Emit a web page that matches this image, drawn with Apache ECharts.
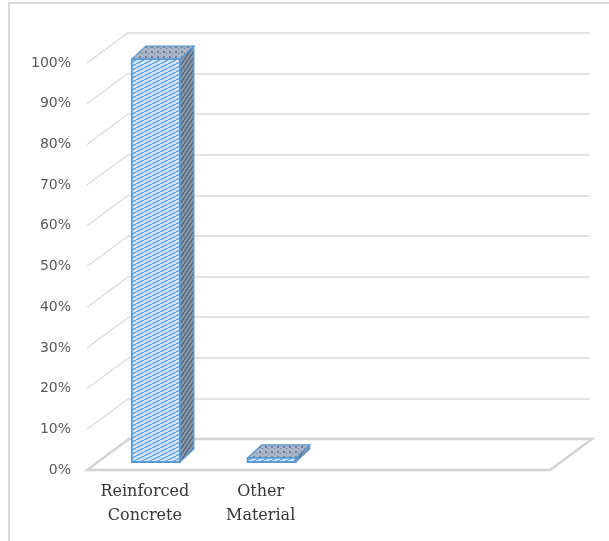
<!DOCTYPE html>
<html>
<head>
<meta charset="utf-8">
<script src="https://cdn.jsdelivr.net/npm/echarts@6/dist/echarts.min.js"></script>
<style>
  html, body { margin: 0; padding: 0; background: #ffffff; }
  #chart { width: 609px; height: 541px; }
</style>
</head>
<body>
<div id="chart"></div>
<script>
// Share of structures by building material (percent)
const categories = ['Reinforced\nConcrete', 'Other\nMaterial', '', ''];
const shares = [99, 1];
const tickValues = [10, 20, 30, 40, 50, 60, 70, 80, 90, 100];

// Depth of the floor (front plane -> back wall) and of each 3D bar
const FLOOR_DEPTH = [42, -31];
const BAR_OFFSET = [11, -8];
const BAR_DEPTH = [14, -13];

function makePattern(w, h, bg, draw) {
  const c = document.createElement('canvas');
  c.width = w; c.height = h;
  const ctx = c.getContext('2d');
  ctx.fillStyle = bg;
  ctx.fillRect(0, 0, w, h);
  draw(ctx, w, h);
  return { image: c, repeat: 'repeat' };
}
function diagonal(color, lw) {
  return function (ctx, w, h) {
    ctx.strokeStyle = color;
    ctx.lineWidth = lw;
    for (let k = -1; k <= 1; k++) {
      ctx.beginPath();
      ctx.moveTo(k * w, h);
      ctx.lineTo(k * w + w, 0);
      ctx.stroke();
    }
  };
}
const frontFill = makePattern(8, 4, '#d3e4f6', diagonal('#5f9fd8', 1.3));
const sideFill = makePattern(4, 6, '#8d99a9', diagonal('#56677f', 1.4));
const topFill = makePattern(6, 5, '#a7b5c6', function (ctx) {
  ctx.fillStyle = '#6f819b';
  ctx.fillRect(1, 1, 2, 2);
  ctx.fillRect(4, 3, 1, 1);
});

const chart = echarts.init(document.getElementById('chart'), null, { renderer: 'canvas' });

const option = {
  animation: false,
  backgroundColor: '#ffffff',
  graphic: [{
    type: 'rect',
    shape: { x: 9, y: 3, width: 640, height: 580 },
    style: { fill: 'none', stroke: '#d9d9d9', lineWidth: 2 },
    silent: true,
    z: -10
  }],
  grid: [
    // back wall
    { left: 129, top: 33, width: 461, height: 406 },
    // front plane
    { left: 87, top: 63, width: 463, height: 407 }
  ],
  xAxis: [
    { gridIndex: 0, type: 'category', data: categories, show: false },
    {
      gridIndex: 1, type: 'category', data: categories,
      axisLine: { show: false }, axisTick: { show: false },
      axisLabel: {
        interval: 0, margin: 10,
        color: '#363636', fontFamily: 'DejaVu Serif', fontSize: 16, lineHeight: 24
      }
    }
  ],
  yAxis: [
    {
      gridIndex: 0, type: 'value', min: 0, max: 100, interval: 10,
      axisLine: { show: false }, axisTick: { show: false }, axisLabel: { show: false },
      splitLine: { lineStyle: { color: '#dadada', width: 1.5 } }
    },
    {
      gridIndex: 1, type: 'value', min: 0, max: 100, interval: 10,
      axisLine: { show: false }, axisTick: { show: false },
      splitLine: { show: false },
      axisLabel: {
        formatter: '{value}%', margin: 16,
        color: '#595959', fontFamily: 'DejaVu Sans', fontSize: 14
      }
    }
  ],
  series: [
    {
      // floor slab and side-wall gridlines
      type: 'custom',
      xAxisIndex: 1, yAxisIndex: 1,
      silent: true,
      z: 1,
      data: [[0, 0]],
      renderItem: function (params, api) {
        const cs = params.coordSys;
        const by = cs.y + cs.height;
        const dx = FLOOR_DEPTH[0], dy = FLOOR_DEPTH[1];
        const children = [{
          type: 'polygon',
          shape: { points: [[cs.x, by], [cs.x + cs.width, by], [cs.x + cs.width + dx, by + dy], [cs.x + dx, by + dy]] },
          style: { fill: '#ffffff', stroke: '#d3d3d3', lineWidth: 2.5 }
        }];
        tickValues.forEach(function (v) {
          const y = api.coord([0, v])[1];
          children.push({
            type: 'line',
            shape: { x1: cs.x, y1: y, x2: cs.x + dx, y2: y + dy },
            style: { stroke: '#dadada', lineWidth: 1.2 }
          });
        });
        return { type: 'group', children: children };
      }
    },
    {
      // 3D bars
      type: 'custom',
      xAxisIndex: 1, yAxisIndex: 1,
      z: 5,
      data: shares.map(function (v, i) { return [i, v]; }),
      renderItem: function (params, api) {
        const i = api.value(0);
        const v = api.value(1);
        const base = api.coord([i, 0]);
        const top = api.coord([i, v]);
        const w = api.size([1, 0])[0] * 0.415;
        const cx = base[0] + BAR_OFFSET[0];
        const x0 = cx - w / 2, x1 = cx + w / 2;
        const yb = base[1] + BAR_OFFSET[1];
        const yt = top[1] + BAR_OFFSET[1];
        const dx = BAR_DEPTH[0], dy = BAR_DEPTH[1];
        const edge = '#5b9bd5';
        return {
          type: 'group',
          children: [
            {
              type: 'polygon',
              shape: { points: [[x1, yt], [x1 + dx, yt + dy], [x1 + dx, yb + dy], [x1, yb]] },
              style: { fill: sideFill, stroke: edge, lineWidth: 1.2 }
            },
            {
              type: 'polygon',
              shape: { points: [[x0, yt], [x1, yt], [x1 + dx, yt + dy], [x0 + dx, yt + dy]] },
              style: { fill: topFill, stroke: edge, lineWidth: 1.2 }
            },
            {
              type: 'rect',
              shape: { x: x0, y: yt, width: w, height: yb - yt },
              style: { fill: frontFill, stroke: edge, lineWidth: 1.8 }
            }
          ]
        };
      }
    }
  ]
};

chart.setOption(option);
</script>
</body>
</html>
